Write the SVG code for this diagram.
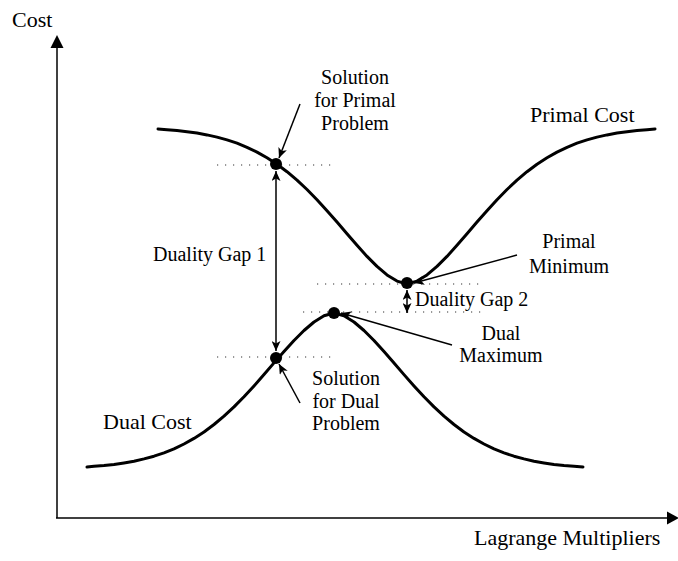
<svg xmlns="http://www.w3.org/2000/svg" width="678" height="561" viewBox="0 0 678 561">
<style>
text{font-family:"Liberation Serif","Times New Roman",serif;fill:#000}
.lbl{font-size:20px}
.big{font-size:22px}
.curve{fill:none;stroke:#000;stroke-width:3;stroke-linejoin:round;stroke-linecap:round}
.axis{fill:none;stroke:#000;stroke-width:1.5}
.dot{fill:#000}
.dotted{stroke:#333;stroke-width:1.2;stroke-dasharray:1.2 6.8;fill:none}
.lead{stroke:#000;stroke-width:1.5;fill:none}
</style>
<defs>
<marker id="ah" markerWidth="11" markerHeight="9" refX="10" refY="4.5" orient="auto-start-reverse" markerUnits="userSpaceOnUse">
<path d="M0,0 L10,4.5 L0,9 L2.5,4.5 z" fill="#000"/>
</marker>
</defs>
<g id="axes">
<line class="axis" x1="57" y1="518" x2="57" y2="46"/>
<polygon points="57,35 50.5,48 63.5,48" fill="#000"/>
<line class="axis" x1="56" y1="518" x2="670" y2="518"/>
<polygon points="679,518 667,511.5 667,524.5" fill="#000"/>
<text class="big" x="12" y="27">Cost</text>
<text class="big" x="474" y="545">Lagrange Multipliers</text>
</g>
<g id="primal-curve">
<polyline class="curve" points="158,129 167,129.7 177,130.5 187,131.7 197,133.1 207,134.9 217,137.1 227,139.9 237,143.2 247,147.3 257,152.1 267,157.8 277,164.2 287,171.7 297,180.2 307,189.5 317,199.7 327,210.7 337,222 347,233.8 357,245.2 367,256.4 377,266.4 387,274.9 397,281.1 407,284 417,281.1 427,274.9 437,266.4 447,256.4 457,245.2 467,233.8 477,222 487,210.7 497,199.7 507,189.5 517,180.2 527,171.7 537,164.2 547,157.8 557,152.1 567,147.3 577,143.2 587,139.9 597,137.1 607,134.9 617,133.1 627,131.7 637,130.5 647,129.7 655,129"/>
<text class="big" x="530" y="122">Primal Cost</text>
</g>
<g id="dual-curve">
<polyline class="curve" points="87,467 94,466.3 104,465.5 114,464.4 124,462.9 134,461.2 144,458.9 154,456.2 164,452.9 174,448.9 184,444 194,438.4 204,432 214,424.5 224,416.1 234,406.9 244,396.8 254,385.9 264,374.6 274,362.9 284,351.5 294,340.5 304,330.5 314,322 324,315.8 334,313 344,315.8 354,322 364,330.5 374,340.5 384,351.5 394,362.9 404,374.6 414,385.9 424,396.8 434,406.9 444,416.1 454,424.5 464,432 474,438.4 484,444 494,448.9 504,452.9 514,456.2 524,458.9 534,461.2 544,462.9 554,464.4 564,465.5 574,466.3 583,467"/>
<text class="big" x="103" y="429">Dual Cost</text>
</g>
<g id="guides">
<line class="dotted" x1="217" y1="165" x2="336" y2="165"/>
<line class="dotted" x1="317" y1="284" x2="482" y2="284"/>
<line class="dotted" x1="303" y1="312" x2="482" y2="312"/>
<line class="dotted" x1="217" y1="357" x2="336" y2="357"/>
</g>
<g id="connectors">
<line class="lead" x1="276" y1="171" x2="276" y2="351" marker-start="url(#ah)" marker-end="url(#ah)"/>
<line class="lead" x1="407" y1="290" x2="407" y2="313" marker-start="url(#ah)" marker-end="url(#ah)"/>
<line class="lead" x1="300" y1="104" x2="279" y2="158" marker-end="url(#ah)"/>
<line class="lead" x1="517" y1="255" x2="414" y2="283" marker-end="url(#ah)"/>
<line class="lead" x1="452" y1="345" x2="341" y2="313" marker-end="url(#ah)"/>
<line class="lead" x1="300" y1="403" x2="279" y2="364" marker-end="url(#ah)"/>
</g>
<g id="primal-solution">
<circle class="dot" cx="276" cy="164" r="6"/>
<text class="lbl" text-anchor="middle" x="355" y="84">Solution</text>
<text class="lbl" text-anchor="middle" x="355" y="107">for Primal</text>
<text class="lbl" text-anchor="middle" x="355" y="130">Problem</text>
</g>
<g id="primal-minimum">
<circle class="dot" cx="407" cy="283" r="6"/>
<text class="lbl" text-anchor="middle" x="569" y="248">Primal</text>
<text class="lbl" text-anchor="middle" x="569" y="273">Minimum</text>
</g>
<g id="dual-maximum">
<circle class="dot" cx="334" cy="313" r="6"/>
<text class="lbl" text-anchor="middle" x="501" y="340">Dual</text>
<text class="lbl" text-anchor="middle" x="501" y="362">Maximum</text>
</g>
<g id="dual-solution">
<circle class="dot" cx="276" cy="358" r="6"/>
<text class="lbl" text-anchor="middle" x="346" y="385">Solution</text>
<text class="lbl" text-anchor="middle" x="346" y="408">for Dual</text>
<text class="lbl" text-anchor="middle" x="346" y="430">Problem</text>
</g>
<g id="gap1">
<text class="lbl" x="153" y="261">Duality Gap 1</text>
</g>
<g id="gap2">
<text class="lbl" x="415" y="306">Duality Gap 2</text>
</g>
</svg>
